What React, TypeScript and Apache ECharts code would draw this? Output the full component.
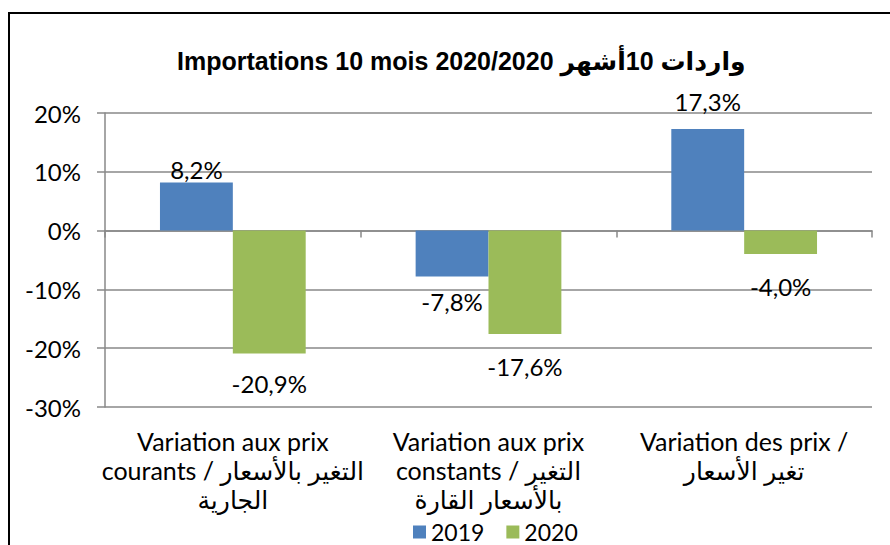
import React, { useEffect, useRef } from "react";
import * as echarts from "echarts";

const categories = [
  "Variation aux prix\ncourants / التغير بالأسعار\nالجارية",
  "Variation aux prix\nconstants / التغير\nبالأسعار القارة",
  "Variation des prix /\nتغير الأسعار",
];
const seriesNames = ["2019", "2020"];
const values2019 = [8.2, -7.8, 17.3];
const values2020 = [-20.9, -17.6, -4.0];
const titleText = "Importations 10 mois 2020/2020 واردات 10أشهر";

const labelDist2019 = [1, 13, 15];
const labelDist2020 = [18, 20, 20];

const FONT = "Lato, 'DejaVu Sans', sans-serif";
const GRID = "#898989";

const fmt = (v: number) => v.toFixed(1).replace(".", ",") + "%";

function buildData(vals: number[], dists: number[]) {
  return vals.map((v, i) => ({
    value: v,
    label: { position: v >= 0 ? "top" : "bottom", distance: dists[i] },
  }));
}

export default function App() {
  const ref = useRef<HTMLDivElement>(null);
  useEffect(() => {
    if (!ref.current) return;
    const chart = echarts.init(ref.current, undefined, { renderer: "svg" });
    const labelStyle = {
      show: true,
      formatter: (p: any) => fmt(p.value),
      fontSize: 24,
      fontFamily: FONT,
      color: "#000",
    };
    chart.setOption({
      animation: false,
      backgroundColor: "#fff",
      title: {
        text: titleText,
        left: 172,
        top: 43,
        textStyle: {
          fontFamily: "'Liberation Sans', Arial, 'DejaVu Sans', sans-serif",
          fontWeight: "bold",
          fontSize: 25,
          color: "#000",
        },
      },
      graphic: [
        {
          type: "rect",
          shape: { x: 9, y: 13, width: 1200, height: 1200 },
          style: { fill: "none", stroke: "#000", lineWidth: 2 },
          silent: true,
        },
      ],
      legend: {
        data: seriesNames,
        left: 408,
        top: 515,
        icon: "rect",
        itemWidth: 13,
        itemHeight: 13,
        itemGap: 22,
        textStyle: { fontSize: 23, lineHeight: 24, fontFamily: FONT, color: "#000" },
      },
      grid: { left: 105, right: 18, top: 113, bottom: 138 },
      xAxis: [
        {
          type: "category",
          data: categories,
          axisLine: { show: false, onZero: false },
          axisTick: { show: false },
          splitLine: { show: false },
          axisLabel: {
            interval: 0,
            margin: 19,
            fontSize: 25,
            lineHeight: 29,
            fontFamily: FONT,
            color: "#000",
          },
        },
        {
          type: "category",
          data: categories,
          position: "bottom",
          axisLine: { show: true, onZero: true, lineStyle: { color: GRID, width: 1.5 } },
          axisTick: { show: true, length: 7, lineStyle: { color: GRID, width: 1.5 } },
          axisLabel: { show: false },
          splitLine: { show: false },
        },
      ],
      yAxis: {
        type: "value",
        min: -30,
        max: 20,
        interval: 10,
        axisLine: { show: true, lineStyle: { color: GRID, width: 1.5 } },
        axisTick: { show: true, length: 8, lineStyle: { color: GRID, width: 1.5 } },
        splitLine: { show: true, lineStyle: { color: GRID, width: 1.5 } },
        axisLabel: {
          formatter: "{value}%",
          fontSize: 24,
          fontFamily: FONT,
          color: "#000",
          margin: 24,
        },
      },
      series: [
        {
          name: seriesNames[0],
          type: "bar",
          xAxisIndex: 0,
          data: buildData(values2019, labelDist2019),
          itemStyle: { color: "#4F81BD" },
          barGap: "0%",
          barCategoryGap: "43%",
          label: labelStyle,
        },
        {
          name: seriesNames[1],
          type: "bar",
          xAxisIndex: 0,
          data: buildData(values2020, labelDist2020),
          itemStyle: { color: "#9BBB59" },
          barGap: "0%",
          barCategoryGap: "43%",
          label: labelStyle,
        },
      ],
    });
    return () => chart.dispose();
  }, []);
  return (
    <div
      ref={ref}
      style={{ position: "fixed", left: 0, top: 0, width: 890, height: 545 }}
    />
  );
}
